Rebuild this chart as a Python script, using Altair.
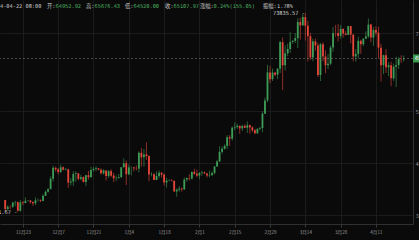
import altair as alt
import pandas as pd

# ---------------- data ----------------
dates = pd.date_range("2023-11-16", "2024-04-22", freq="D")

opens = [
    # Nov 16-30
    37880, 36160, 36590, 36580, 37390, 37470, 35810, 37430, 37300, 37740, 37800, 37480, 37250, 37830, 37860,
    # Dec
    37720, 38690, 39460, 39970, 41980, 44080, 43770, 43290, 44170, 43720, 43790, 41240, 41450, 42890, 43020,
    41940, 42280, 41370, 42660, 42270, 43650, 43860, 43980, 43720, 43010, 43580, 42510, 43440, 42580, 42070, 42140,
    # Jan
    42280, 44180, 44950, 42850, 44150, 44160, 43970, 43930, 46960, 46100, 46650, 46340, 42780, 42840, 41730,
    42510, 43140, 42770, 41260, 41620, 41660, 41550, 39530, 39880, 40080, 39930, 41810, 42120, 42030, 43300, 42940,
    # Feb
    42580, 43080, 43190, 42990, 42580, 42660, 43090, 44340, 45290, 47130, 47750, 48290, 49960, 49700, 51790,
    51910, 52160, 51660, 52120, 51780, 52260, 51850, 51300, 50730, 51570, 51730, 54480, 57040, 62430,
    # Mar
    61130, 62390, 61990, 63130, 68250, 63800, 66100, 66930, 68300, 68500, 69020, 72130, 71480, 73080, 71400,
    69400, 65300, 68390, 67610, 61930, 67840, 65500, 63800, 64100, 67200, 70000, 69990, 69450, 70780, 69890, 69650,
    # Apr 1-22
    71330, 69700, 65500, 65980, 68500, 67840, 68900, 69360, 71620, 69140, 70590, 70060, 67190, 63820, 65740,
    63420, 63810, 61280, 63510, 63840, 64990, 64952.92,
]
highs = [
    37930, 36850, 36850, 37540, 37750, 37650, 37880, 37660, 38420, 37890, 37830, 37600, 38380, 38160, 38000,
    38960, 39700, 40200, 42420, 44490, 44300, 44050, 44700, 44370, 44040, 43810, 42100, 43430, 43420, 43090,
    42720, 42430, 42760, 43500, 44280, 44240, 44400, 44000, 43950, 43800, 43600, 43680, 43800, 43120, 42600, 42900,
    44190, 45880, 45500, 44730, 44350, 44220, 44500, 47250, 47900, 47700, 48970, 46500, 43250, 43080, 43400,
    43580, 43200, 42930, 42180, 41870, 41880, 41680, 40130, 40550, 40290, 42220, 42200, 42840, 43310, 43880, 43740,
    43290, 43490, 43380, 43120, 43540, 43400, 44370, 45600, 48200, 48170, 48590, 50330, 50370, 52040, 52820,
    52570, 52200, 52360, 52480, 52980, 52380, 52050, 51550, 51680, 51960, 54940, 57560, 63900, 63680,
    63160, 62430, 63230, 68500, 69170, 67640, 67990, 70140, 68630, 69990, 72850, 72950, 73650, 73835.57, 72370,
    70040, 68900, 68940, 68130, 68100, 68240, 66650, 65980, 67600, 71150, 71560, 71750, 71550, 70920, 70350, 71370,
    71370, 69700, 66900, 69290, 68720, 69000, 70330, 72800, 71760, 71170, 71280, 71230, 67930, 65840, 66870,
    64360, 64500, 64120, 65450, 65390, 65720, 65676.43,
]
lows = [
    35670, 35900, 36160, 36380, 36700, 35631.67, 35640, 36880, 37250, 37600, 37160, 36750, 36880, 37600, 37500,
    37620, 38650, 39300, 39970, 41420, 43330, 42820, 43080, 43580, 43570, 40220, 40680, 40610, 41420, 41660,
    41680, 41250, 40530, 41800, 42210, 43330, 43410, 43580, 42750, 42770, 41630, 42100, 42310, 41300, 41520, 41960,
    42180, 44150, 40750, 42630, 42630, 43400, 43580, 43180, 44300, 44300, 45600, 41500, 42440, 41720, 41720,
    42050, 42200, 40680, 40280, 41510, 41500, 39450, 38500, 39480, 39500, 39820, 41390, 41620, 41800, 42700, 42280,
    41880, 42580, 42880, 42220, 42260, 42580, 42790, 44330, 45240, 46800, 47560, 47710, 48300, 49280, 51330,
    51570, 50620, 51160, 51710, 50800, 50630, 50920, 50520, 50590, 51280, 50900, 54450, 56700, 60360,
    60780, 61660, 61130, 62300, 59000, 62800, 65530, 66140, 67950, 68070, 67100, 68750, 71340, 68550, 64500,
    64800, 64560, 66600, 61540, 60770, 64530, 62260, 63050, 63820, 66380, 69250, 68380, 68900, 69110, 69580, 69580,
    68000, 64550, 64500, 65100, 66000, 67450, 68820, 69050, 68200, 67520, 69560, 65090, 60660, 62130, 62300,
    61710, 59770, 60800, 59600, 63100, 64240, 64520.00,
]
closes = [
    36160, 36590, 36580, 37390, 37470, 35810, 37430, 37300, 37740, 37800, 37480, 37250, 37830, 37860, 37720,
    38690, 39460, 39970, 41980, 44080, 43770, 43290, 44170, 43720, 43790, 41240, 41450, 42890, 43020, 41940,
    42280, 41370, 42660, 42270, 43650, 43860, 43980, 43720, 43010, 43580, 42510, 43440, 42580, 42070, 42140, 42280,
    44180, 44950, 42850, 44150, 44160, 43970, 43930, 46960, 46100, 46650, 46340, 42780, 42840, 41730, 42510,
    43140, 42770, 41260, 41620, 41660, 41550, 39530, 39880, 40080, 39930, 41810, 42120, 42030, 43300, 42940, 42580,
    43080, 43190, 42990, 42580, 42660, 43090, 44340, 45290, 47130, 47750, 48290, 49960, 49700, 51790, 51910,
    52160, 51660, 52120, 51780, 52260, 51850, 51300, 50730, 51570, 51730, 54480, 57040, 62430, 61130,
    62390, 61990, 63130, 68250, 63800, 66100, 66930, 68300, 68500, 69020, 72130, 71480, 73080, 71400, 69400,
    65300, 68390, 67610, 61930, 67840, 65500, 63800, 64100, 67200, 70000, 69990, 69450, 70780, 69890, 69650, 71330,
    69700, 65500, 65980, 68500, 67840, 68900, 69360, 71620, 69140, 70590, 70060, 67190, 63820, 65740, 63420,
    63810, 61280, 63510, 63840, 64990, 64950, 65107.97,
]

tick_dates = ["2023-11-23", "2023-12-07", "2023-12-21", "2024-01-04", "2024-01-18", "2024-02-01",
              "2024-02-15", "2024-02-29", "2024-03-14", "2024-03-28", "2024-04-11"]
price_ticks = [35000, 40000, 45000, 50000, 55000, 60000, 70000, 75000]

high_label = ("2024-03-14", 73835.57, "73835.57 -")
low_label = ("2023-11-21", 35631.67, "35631.67 -")
last_price = 65107.97

header_texts = ["2024-04-22 08:00", "开:", "64952.92", "高:", "65676.43", "低:", "64520.00",
                "收:", "65107.97", "涨幅:", "0.24%(155.05)", "振幅:", "1.78%"]
header_kinds = ["plain", "plain", "num", "plain", "num", "plain", "num",
                "plain", "num", "plain", "num", "plain", "plain"]
# layout (pixel x positions of header pieces)
header_x = [-9.6, 47, 55.5, 86, 94.5, 125, 133.5, 165, 173.5, 200, 213.5, 263, 277]

# ---------------- build ----------------
def ms(d):
    return int(pd.Timestamp(d, tz="UTC").value // 10**6)

df = pd.DataFrame({
    "t": dates.tz_localize("UTC").asi8 // 10**6,
    "open": opens, "high": highs, "low": lows, "close": closes,
})

GREEN = "#3e9c56"
RED = "#e5463a"
BG = "#0a0a0a"
GRID = "#1f1f1f"
MONO = "DejaVu Sans Mono, Noto Sans CJK SC"
CJK = "Noto Sans CJK SC"

xscale = alt.Scale(type="utc", domain=[ms("2023-11-15 22:00"), ms("2024-04-23 17:00")], nice=False)
yscale = alt.Scale(domain=[33270, 76350], nice=False, zero=False)

xaxis = alt.Axis(values=[ms(d) for d in tick_dates],
                 labelExpr="toNumber(utcFormat(datum.value, '%m')) + '月' + toNumber(utcFormat(datum.value, '%d'))",
                 labelFont=CJK, labelFontSize=4.6, labelColor="#9a9a9a", labelPadding=2,
                 tickColor="#3a3a3a", tickSize=3, domainColor="#3a3a3a", domainWidth=0.8,
                 grid=True, gridColor=GRID, gridWidth=0.8, title=None, labelFlush=False)
yaxis = alt.Axis(orient="right", values=price_ticks, format="d", labelFont=MONO, labelFontSize=5.5,
                 labelColor="#8a8a8a", labelPadding=2, ticks=False, domainColor="#3a3a3a",
                 domainWidth=0.8, grid=True, gridColor=GRID, gridWidth=0.8, title=None)

color_cond = alt.condition("datum.open <= datum.close", alt.value(GREEN), alt.value(RED))

base = alt.Chart(df)
wicks = base.mark_rule(strokeWidth=0.6, clip=True).encode(
    x=alt.X("t:T", scale=xscale, axis=xaxis),
    y=alt.Y("low:Q", scale=yscale, axis=yaxis),
    y2="high:Q",
    color=color_cond,
)
bodies = base.mark_bar(width=1.8, clip=True).encode(
    x=alt.X("t:T", scale=xscale),
    y=alt.Y("open:Q", scale=yscale),
    y2="close:Q",
    color=color_cond,
)

pdf = pd.DataFrame({"p": [last_price], "lab": [f"{last_price:.2f}"]})
price_line = alt.Chart(pdf).mark_rule(strokeDash=[2, 2], color="#7a7a7a", strokeWidth=0.6).encode(
    y=alt.Y("p:Q", scale=yscale)
)
tag = alt.Chart(pdf).mark_rule(strokeWidth=8, color="#3c9a50").encode(
    x=alt.value(413), x2=alt.value(440), y=alt.Y("p:Q", scale=yscale)
)
tag_text = alt.Chart(pdf).mark_text(align="left", baseline="middle", font=MONO, fontSize=5.5,
                                    color="#ffffff").encode(
    x=alt.value(415), y=alt.Y("p:Q", scale=yscale), text="lab:N"
)

hl = pd.DataFrame({
    "t": [ms(high_label[0]), ms(low_label[0])],
    "p": [high_label[1], low_label[1]],
    "lab": [high_label[2], low_label[2]],
})
hl_text = alt.Chart(hl).mark_text(align="right", baseline="middle", dx=-0.5, font=MONO,
                                  fontSize=5.3, color="#d0d0d0").encode(
    x=alt.X("t:T", scale=xscale), y=alt.Y("p:Q", scale=yscale), text="lab:N"
)

hdf = pd.DataFrame({"x": header_x, "txt": header_texts, "kind": header_kinds})
header = alt.Chart(hdf).mark_text(align="left", baseline="middle", font=MONO, fontSize=5.3).encode(
    x=alt.X("x:Q", scale=None),
    y=alt.value(6),
    text="txt:N",
    color=alt.Color("kind:N", scale=alt.Scale(domain=["plain", "num"], range=["#c8c8c8", "#4cb464"]),
                    legend=None),
)

chart = alt.layer(wicks, bodies, price_line, tag, tag_text, hl_text, header).properties(
    width=413, height=224,
    autosize=alt.AutoSizeParams(type="none"),
    padding={"left": 0, "top": 0, "right": 6, "bottom": 16},
    background=BG,
).configure_view(stroke=None)

chart.save("out.html", embed_options={"renderer": "svg", "actions": False})
